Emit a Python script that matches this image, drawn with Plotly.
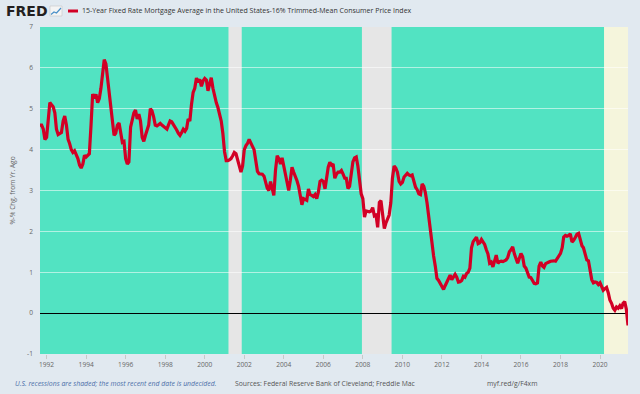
import plotly.graph_objects as go
import pandas as pd

# ---- data (monthly, 1991-09 .. 2021-06) ----
start_month = "1991-09-01"
spread_values = [
    4.6, 4.6, 4.5, 4.25, 4.3, 4.85, 5.15, 5.1, 5.05, 4.9, 4.5, 4.37,
    4.4, 4.42, 4.7, 4.82, 4.6, 4.25, 4.15, 4.0, 3.93, 3.97, 3.88, 3.78,
    3.62, 3.55, 3.65, 3.86, 3.82, 3.85, 3.9, 4.6, 5.36, 5.25, 5.35, 5.15,
    5.25, 5.5, 5.8, 6.2, 6.1, 5.75, 5.4, 5.15, 4.85, 4.35, 4.4, 4.6,
    4.65, 4.35, 4.18, 4.2, 3.78, 3.65, 3.7, 4.55, 4.75, 4.9, 4.97, 4.75,
    4.87, 4.7, 4.3, 4.2, 4.35, 4.48, 4.6, 5.0, 4.95, 4.8, 4.6, 4.58,
    4.62, 4.64, 4.6, 4.56, 4.54, 4.5, 4.6, 4.7, 4.68, 4.62, 4.55, 4.48,
    4.4, 4.35, 4.42, 4.5, 4.45, 4.52, 4.75, 4.7, 5.1, 5.4, 5.5, 5.75,
    5.65, 5.72, 5.55, 5.68, 5.74, 5.7, 5.44, 5.6, 5.76, 5.5, 5.3, 5.15,
    5.03, 4.85, 4.7, 4.4, 3.95, 3.73, 3.73, 3.75, 3.78, 3.85, 3.93, 3.9,
    3.75, 3.55, 3.45, 3.6, 4.0, 4.1, 4.15, 4.25, 4.15, 4.08, 4.0, 3.7,
    3.47, 3.41, 3.41, 3.4, 3.35, 3.15, 3.06, 3.0, 3.22, 3.05, 2.88, 3.5,
    3.85, 3.78, 3.65, 3.8, 3.6, 3.45, 3.24, 3.0, 3.25, 3.57, 3.45, 3.35,
    3.24, 3.1, 2.82, 2.65, 2.8, 2.78, 2.76, 3.04, 2.9, 2.88, 2.85, 2.9,
    2.8, 2.96, 3.22, 3.25, 3.22, 3.04, 3.35, 3.57, 3.69, 3.62, 3.65, 3.3,
    3.4, 3.45, 3.45, 3.49, 3.4, 3.3, 3.3, 3.05, 3.1, 3.35, 3.7, 3.8,
    3.82, 3.6, 3.25, 2.92, 2.8, 2.35, 2.5, 2.48, 2.48, 2.5, 2.58, 2.38,
    2.4, 2.1, 2.71, 2.75, 2.35, 2.07, 2.2, 2.32, 2.4, 2.7, 3.3, 3.6,
    3.55, 3.45, 3.22, 3.16, 3.2, 3.33, 3.37, 3.42, 3.38, 3.36, 3.38, 3.2,
    3.08, 3.02, 2.92, 2.9, 3.16, 3.1, 2.95, 2.7, 2.35, 2.0, 1.6, 1.4,
    1.15, 0.85, 0.8, 0.72, 0.63, 0.58, 0.67, 0.76, 0.8, 0.93, 0.82, 0.9,
    0.95, 0.88, 0.76, 0.77, 0.8, 0.9, 0.88, 0.97, 1.0, 1.1, 1.6, 1.75,
    1.8, 1.86, 1.7, 1.72, 1.8, 1.75, 1.68, 1.55, 1.45, 1.22, 1.25, 1.13,
    1.3, 1.42, 1.22, 1.26, 1.27, 1.26, 1.28, 1.3, 1.36, 1.5, 1.55, 1.62,
    1.45, 1.3, 1.22, 1.34, 1.46, 1.38, 1.15, 1.1, 0.98, 0.88, 0.87, 0.8,
    0.73, 0.72, 0.74, 1.15, 1.25, 1.15, 1.12, 1.21, 1.22, 1.25, 1.27, 1.28,
    1.28, 1.27, 1.33, 1.4, 1.46, 1.6, 1.86, 1.9, 1.88, 1.9, 1.94, 1.74,
    1.78, 1.85, 1.93, 1.95, 1.8, 1.65, 1.6, 1.45, 1.3, 1.28, 1.05, 0.82,
    0.74, 0.76, 0.75, 0.7, 0.74, 0.66, 0.56, 0.6, 0.63, 0.5, 0.32, 0.24,
    0.12, 0.07, 0.15, 0.12, 0.18, 0.11, 0.24, 0.28, 0.1, -0.3,
]
dates = pd.date_range(start_month, periods=len(spread_values), freq="MS")

recession_starts = ["2001-03-15", "2007-12-15"]
recession_ends = ["2001-11-15", "2009-06-15"]
undecided_start = "2020-03-15"

tick_years = list(range(1992, 2021, 2))
tick_labels = [str(y) for y in tick_years]
y_ticks = list(range(-1, 8))

series_name = "15-Year Fixed Rate Mortgage Average in the United States-16% Trimmed-Mean Consumer Price Index"

# ---- layout constants ----
W, H = 640, 394
ML, MR, MT, MB = 40, 12, 27, 40
PW = W - ML - MR
PH = H - MT - MB


def px(x):
    return (x - ML) / PW


def py(y):
    return 1 + (MT - y) / PH


FONT = "Open Sans"
GREEN = "#52e3c2"
RED = "#d20025"

fig = go.Figure()
fig.add_trace(go.Scatter(
    x=dates, y=spread_values, mode="lines", name=series_name,
    line=dict(color=RED, width=3.2), showlegend=False,
))

shapes = []
for s, e in zip(recession_starts, recession_ends):
    shapes.append(dict(type="rect", xref="x", yref="paper", x0=s, x1=e, y0=0, y1=1,
                       fillcolor="#e6e6e6", line=dict(width=0), layer="below"))
shapes.append(dict(type="rect", xref="x", yref="paper", x0=undecided_start, x1=dates[-1],
                   y0=0, y1=1, fillcolor="#f5f5dc", line=dict(width=0), layer="below"))
# legend swatch
shapes.append(dict(type="line", xref="paper", yref="paper", x0=px(68), x1=px(78), y0=py(11), y1=py(11),
                   line=dict(color=RED, width=3)))
# FRED icon (small chart glyph)
shapes.append(dict(type="rect", xref="paper", yref="paper", x0=px(50), x1=px(62), y0=py(16), y1=py(6),
                   fillcolor="#f4f4f4", line=dict(color="#c8c8c8", width=0.6)))
shapes.append(dict(type="path", xref="paper", yref="paper",
                   path=f"M {px(51)} {py(14.5)} L {px(54)} {py(12)} L {px(56.5)} {py(13)} L {px(61)} {py(8)}",
                   line=dict(color="#4a90c8", width=1.2)))

annotations = [
    dict(text="<b>FRED</b>", x=px(4), y=py(11), xref="paper", yref="paper", xanchor="left", yanchor="middle",
         showarrow=False, font=dict(family="DejaVu Sans", size=14, color="#231f20")),
    dict(text=series_name, x=px(80), y=py(11), xref="paper", yref="paper", xanchor="left", yanchor="middle",
         showarrow=False, font=dict(family=FONT, size=7.0, color="#333333")),
    dict(text="<i>U.S. recessions are shaded; the most recent end date is undecided.</i>", x=px(13), y=py(383),
         xref="paper", yref="paper", xanchor="left", yanchor="middle", showarrow=False,
         font=dict(family=FONT, size=6.9, color="#4b6ea8")),
    dict(text="Sources: Federal Reserve Bank of Cleveland; Freddie Mac", x=px(233), y=py(383),
         xref="paper", yref="paper", xanchor="left", yanchor="middle", showarrow=False,
         font=dict(family=FONT, size=6.8, color="#555555")),
    dict(text="myf.red/g/F4xm", x=px(485), y=py(383),
         xref="paper", yref="paper", xanchor="left", yanchor="middle", showarrow=False,
         font=dict(family=FONT, size=6.8, color="#555555")),
]

fig.update_layout(
    width=W, height=H,
    margin=dict(l=ML, r=MR, t=MT, b=MB, pad=0),
    paper_bgcolor="#e1e9f0",
    plot_bgcolor=GREEN,
    shapes=shapes,
    annotations=annotations,
    font=dict(family=FONT, size=6.6, color="#666666"),
    xaxis=dict(
        type="date", range=[dates[0], dates[-1]],
        tickvals=[f"{y}-01-01" for y in tick_years], ticktext=tick_labels,
        showgrid=False, zeroline=False, showline=False,
        ticks="outside", ticklen=4, tickcolor="#c8c8c8", tickwidth=1,
        tickfont=dict(family=FONT, size=6.6, color="#666666"),
    ),
    yaxis=dict(
        range=[-1, 7], tickvals=y_ticks, ticktext=[str(v) for v in y_ticks],
        showgrid=True, gridcolor="rgba(255,255,255,0.55)", gridwidth=1,
        zeroline=True, zerolinecolor="#000000", zerolinewidth=1.3,
        showline=False, ticks="", ticklabelstandoff=6,
        tickfont=dict(family=FONT, size=6.6, color="#666666"),
        title=dict(text="%-% Chg. from Yr. Ago", standoff=10,
                   font=dict(family=FONT, size=6.6, color="#666666")),
    ),
)

fig.write_html("out.html", config={"displayModeBar": False},
               post_script="document.body.style.margin='0';document.body.style.overflow='hidden';")
